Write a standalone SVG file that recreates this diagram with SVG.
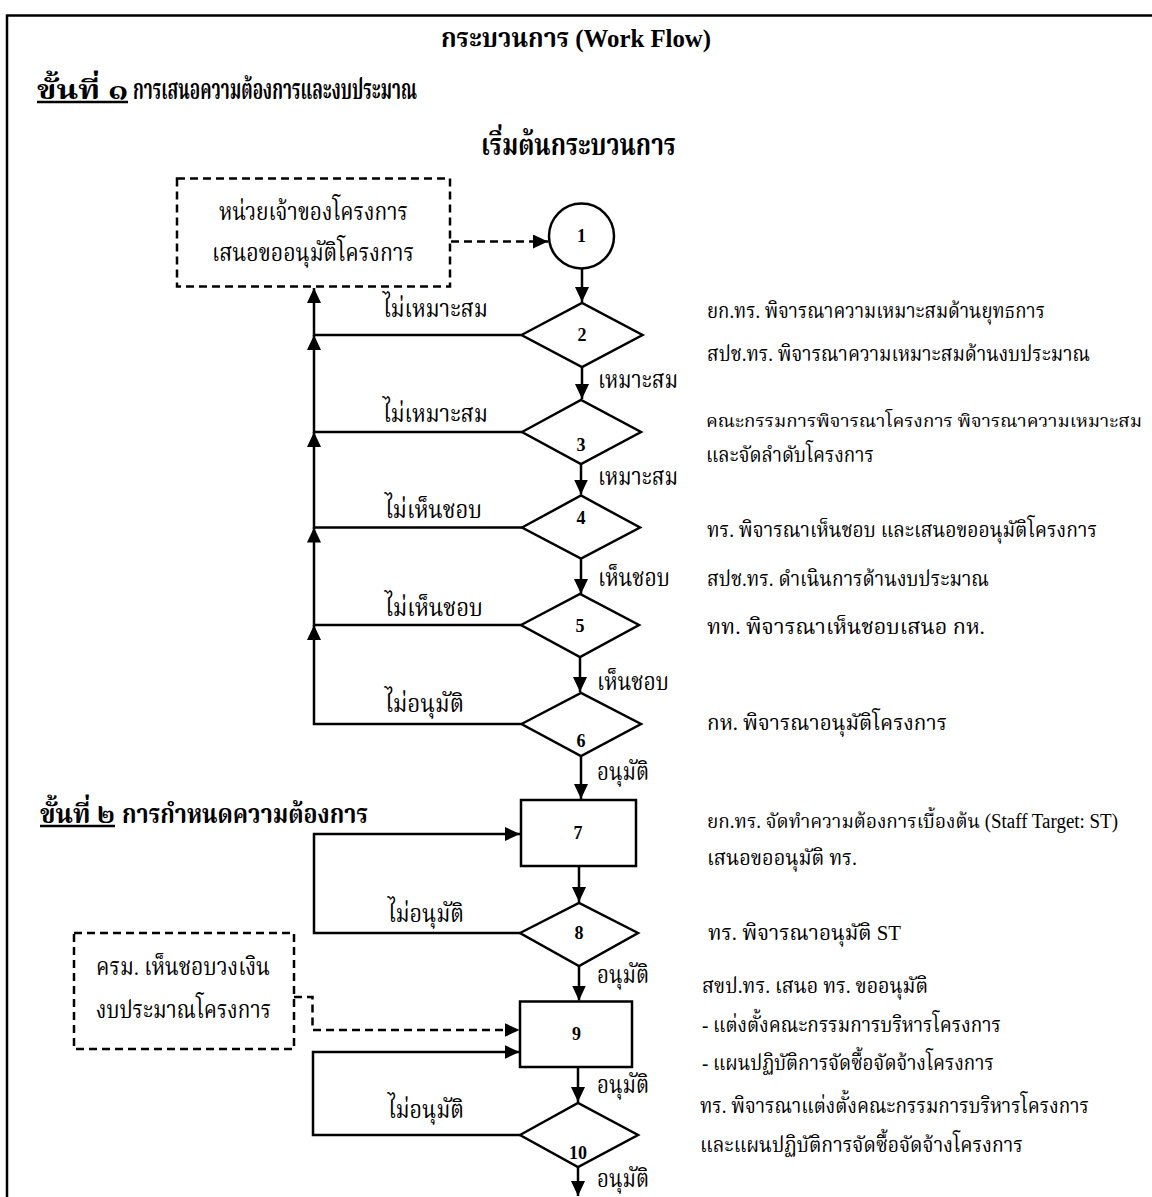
<svg xmlns="http://www.w3.org/2000/svg" width="1152" height="1197" viewBox="0 0 1152 1197">
<style>
.t{font-family:'Liberation Serif','Noto Serif Thai','Noto Sans Thai','Tlwg Typo','Norasi','Garuda','Loma','DejaVu Sans',serif;font-size:24px;fill:#000}
.s{font-size:22px}
.xs{font-size:20px}
.b{font-weight:bold}
.n{font-family:'Liberation Serif',serif;font-weight:bold;font-size:18px;text-anchor:middle;fill:#000}
.ln{stroke:#000;stroke-width:2.5;fill:none}
.d{stroke-dasharray:8 5}
.sh{fill:#fff;stroke:#000;stroke-width:2.5}
.dsh{fill:#fff;stroke:#000;stroke-width:2.5;stroke-dasharray:8 5}
</style>
<defs>
<marker id="ah" markerUnits="userSpaceOnUse" markerWidth="16" markerHeight="15" refX="15" refY="7" orient="auto">
<path d="M0,0 L15,7 L0,14 z" fill="#000"/>
</marker>
</defs>
<rect width="1152" height="1197" fill="#fff"/>
<path class="ln" d="M7,1197 V15.5 H1152"/>

<g id="headings">
<text class="t b" x="441" y="47" textLength="270" lengthAdjust="spacingAndGlyphs" style="font-size:26px">กระบวนการ (Work Flow)</text>
<text class="t b" x="37" y="99" textLength="91" lengthAdjust="spacingAndGlyphs" style="font-size:27px">ขั้นที่ ๑</text>
<line class="ln" x1="37" y1="102" x2="128" y2="102" stroke-width="2"/>
<text class="t b" x="133" y="99" textLength="284" lengthAdjust="spacingAndGlyphs" style="font-size:28px">การเสนอความต้องการและงบประมาณ</text>
<text class="t b" x="481" y="155" textLength="195" lengthAdjust="spacingAndGlyphs" style="font-size:30px">เริ่มต้นกระบวนการ</text>
<text class="t b" x="40" y="823" textLength="75" lengthAdjust="spacingAndGlyphs" style="font-size:27px">ขั้นที่ ๒</text>
<line class="ln" x1="40" y1="826" x2="115" y2="826" stroke-width="2"/>
<text class="t b" x="122" y="823" textLength="246" lengthAdjust="spacingAndGlyphs" style="font-size:27px">การกำหนดความต้องการ</text>
</g>

<g id="connectors">
<path class="ln d" d="M451,241.5 H548" marker-end="url(#ah)"/>
<path class="ln" d="M582,268.5 V302" marker-end="url(#ah)"/>
<path class="ln" d="M582,367 V399" marker-end="url(#ah)"/>
<path class="ln" d="M581,464 V494.5" marker-end="url(#ah)"/>
<path class="ln" d="M581,558.5 V594" marker-end="url(#ah)"/>
<path class="ln" d="M580,657 V692" marker-end="url(#ah)"/>
<path class="ln" d="M581,756 V799" marker-end="url(#ah)"/>
<path class="ln" d="M579,866 V902" marker-end="url(#ah)"/>
<path class="ln" d="M579,966 V1000.5" marker-end="url(#ah)"/>
<path class="ln" d="M578,1067 V1102" marker-end="url(#ah)"/>
<path class="ln" d="M578,1167 V1196" marker-end="url(#ah)"/>
<path class="ln" d="M521.5,335 H314 V288" marker-end="url(#ah)"/>
<path class="ln" d="M522,432 H314 V335" marker-end="url(#ah)"/>
<path class="ln" d="M522,527.5 H314 V432" marker-end="url(#ah)"/>
<path class="ln" d="M521,625 H314 V527.5" marker-end="url(#ah)"/>
<path class="ln" d="M521.5,724 H314 V625" marker-end="url(#ah)"/>
<path class="ln" d="M520,933 H314 V834 H520" marker-end="url(#ah)"/>
<path class="ln" d="M520,1135 H313 V1052 H519.5" marker-end="url(#ah)"/>
<path class="ln d" d="M294,997 H312.5 V1030 H519.5" marker-end="url(#ah)"/>
</g>

<g id="box-owner">
<rect class="dsh" x="177" y="178.5" width="273" height="108"/>
<text class="t" x="219" y="220" textLength="189" lengthAdjust="spacingAndGlyphs">หน่วยเจ้าของโครงการ</text>
<text class="t" x="212" y="261" textLength="202" lengthAdjust="spacingAndGlyphs">เสนอขออนุมัติโครงการ</text>
</g>
<g id="box-cabinet">
<rect class="dsh" x="74" y="933" width="220" height="116"/>
<text class="t" x="96" y="975" textLength="174" lengthAdjust="spacingAndGlyphs">ครม. เห็นชอบวงเงิน</text>
<text class="t" x="96" y="1018" textLength="175" lengthAdjust="spacingAndGlyphs">งบประมาณโครงการ</text>
</g>

<g id="n1"><circle class="sh" cx="581.5" cy="236" r="32.5"/><text class="n" x="581.5" y="242">1</text></g>
<g id="n2"><polygon class="sh" points="521.5,335 582,303 642.5,335 582,367"/><text class="n" x="582" y="341">2</text></g>
<g id="n3"><polygon class="sh" points="522,432 581,400 641,432 581,464"/><text class="n" x="581" y="451">3</text></g>
<g id="n4"><polygon class="sh" points="522,527.5 581,495.5 640,527.5 581,558.5"/><text class="n" x="581" y="524">4</text></g>
<g id="n5"><polygon class="sh" points="521,625 580,594 639,625 580,657"/><text class="n" x="580" y="632">5</text></g>
<g id="n6"><polygon class="sh" points="521.5,724 581,693 641,724 581,756"/><text class="n" x="581" y="747">6</text></g>
<g id="n7"><rect class="sh" x="521" y="800" width="115" height="66"/><text class="n" x="578" y="839">7</text></g>
<g id="n8"><polygon class="sh" points="520,933 579,903 638,933 579,966"/><text class="n" x="579" y="939">8</text></g>
<g id="n9"><rect class="sh" x="520" y="1001.5" width="112" height="65.5"/><text class="n" x="576.5" y="1040">9</text></g>
<g id="n10"><polygon class="sh" points="520,1135 578,1103 638,1135 578,1167"/><text class="n" x="578" y="1159">10</text></g>

<g id="flow-labels">
<text class="t" x="383" y="317" textLength="105" lengthAdjust="spacingAndGlyphs">ไม่เหมาะสม</text>
<text class="t" x="383" y="422" textLength="105" lengthAdjust="spacingAndGlyphs">ไม่เหมาะสม</text>
<text class="t" x="385" y="518" textLength="97" lengthAdjust="spacingAndGlyphs">ไม่เห็นชอบ</text>
<text class="t" x="385" y="616" textLength="98" lengthAdjust="spacingAndGlyphs">ไม่เห็นชอบ</text>
<text class="t" x="385" y="712" textLength="79" lengthAdjust="spacingAndGlyphs">ไม่อนุมัติ</text>
<text class="t" x="388" y="922" textLength="76" lengthAdjust="spacingAndGlyphs">ไม่อนุมัติ</text>
<text class="t" x="388" y="1118" textLength="76" lengthAdjust="spacingAndGlyphs">ไม่อนุมัติ</text>
<text class="t" x="598" y="388" textLength="80" lengthAdjust="spacingAndGlyphs">เหมาะสม</text>
<text class="t" x="598" y="485" textLength="80" lengthAdjust="spacingAndGlyphs">เหมาะสม</text>
<text class="t" x="598" y="586" textLength="72" lengthAdjust="spacingAndGlyphs">เห็นชอบ</text>
<text class="t" x="597" y="690" textLength="72" lengthAdjust="spacingAndGlyphs">เห็นชอบ</text>
<text class="t" x="597" y="780" textLength="52" lengthAdjust="spacingAndGlyphs">อนุมัติ</text>
<text class="t" x="597" y="983" textLength="52" lengthAdjust="spacingAndGlyphs">อนุมัติ</text>
<text class="t" x="597" y="1093" textLength="52" lengthAdjust="spacingAndGlyphs">อนุมัติ</text>
<text class="t" x="597" y="1187" textLength="52" lengthAdjust="spacingAndGlyphs">อนุมัติ</text>
</g>

<g id="descriptions">
<text class="t s" x="707" y="318" textLength="338" lengthAdjust="spacingAndGlyphs">ยก.ทร. พิจารณาความเหมาะสมด้านยุทธการ</text>
<text class="t s" x="707" y="361" textLength="383" lengthAdjust="spacingAndGlyphs">สปช.ทร. พิจารณาความเหมาะสมด้านงบประมาณ</text>
<text class="t" x="706" y="427" textLength="436" lengthAdjust="spacingAndGlyphs" style="font-size:18px">คณะกรรมการพิจารณาโครงการ พิจารณาความเหมาะสม</text>
<text class="t s" x="706" y="462" textLength="168" lengthAdjust="spacingAndGlyphs">และจัดลำดับโครงการ</text>
<text class="t s" x="707" y="537" textLength="390" lengthAdjust="spacingAndGlyphs">ทร. พิจารณาเห็นชอบ และเสนอขออนุมัติโครงการ</text>
<text class="t s" x="707" y="586" textLength="282" lengthAdjust="spacingAndGlyphs">สปช.ทร. ดำเนินการด้านงบประมาณ</text>
<text class="t s" x="707" y="634" textLength="278" lengthAdjust="spacingAndGlyphs">ทท. พิจารณาเห็นชอบเสนอ กห.</text>
<text class="t s" x="707" y="730" textLength="240" lengthAdjust="spacingAndGlyphs">กห. พิจารณาอนุมัติโครงการ</text>
<text class="t xs" x="707" y="828" textLength="411" lengthAdjust="spacingAndGlyphs">ยก.ทร. จัดทำความต้องการเบื้องต้น (Staff Target: ST)</text>
<text class="t s" x="707" y="865" textLength="150" lengthAdjust="spacingAndGlyphs">เสนอขออนุมัติ ทร.</text>
<text class="t s" x="708" y="940" textLength="193" lengthAdjust="spacingAndGlyphs">ทร. พิจารณาอนุมัติ ST</text>
<text class="t s" x="702" y="993" textLength="226" lengthAdjust="spacingAndGlyphs">สขป.ทร. เสนอ ทร. ขออนุมัติ</text>
<text class="t s" x="702" y="1032" textLength="299" lengthAdjust="spacingAndGlyphs">- แต่งตั้งคณะกรรมการบริหารโครงการ</text>
<text class="t s" x="702" y="1070" textLength="292" lengthAdjust="spacingAndGlyphs">- แผนปฏิบัติการจัดซื้อจัดจ้างโครงการ</text>
<text class="t s" x="700" y="1113" textLength="389" lengthAdjust="spacingAndGlyphs">ทร. พิจารณาแต่งตั้งคณะกรรมการบริหารโครงการ</text>
<text class="t s" x="700" y="1152" textLength="323" lengthAdjust="spacingAndGlyphs">และแผนปฏิบัติการจัดซื้อจัดจ้างโครงการ</text>
</g>
</svg>
